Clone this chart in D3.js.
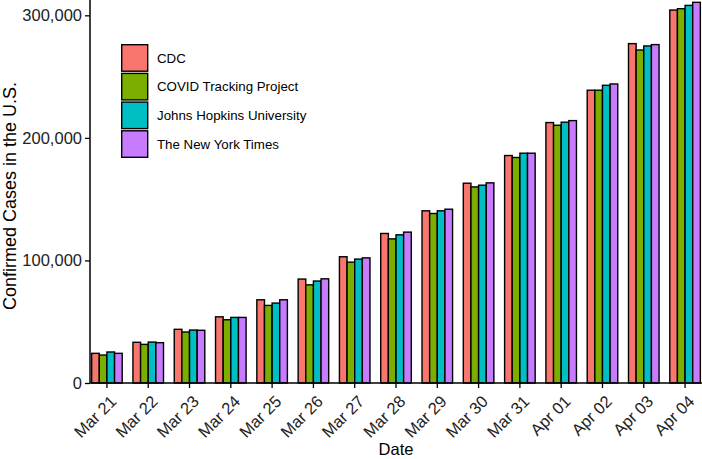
<!DOCTYPE html>
<html>
<head>
<meta charset="utf-8">
<script src="https://cdn.jsdelivr.net/npm/d3@7"></script>
<style>
  body { margin: 0; background: #fff; }
  svg { display: block; font-family: "Liberation Sans", Arial, sans-serif; }
</style>
</head>
<body>
<div id="chart"></div>
<script>
// data (confirmed cases)
var dates = ["Mar 21", "Mar 22", "Mar 23", "Mar 24", "Mar 25", "Mar 26", "Mar 27", "Mar 28",
             "Mar 29", "Mar 30", "Mar 31", "Apr 01", "Apr 02", "Apr 03", "Apr 04"];
var sources = ["CDC", "COVID Tracking Project", "Johns Hopkins University", "The New York Times"];
var cdc  = [24200, 33200, 43800, 54000, 67900, 84800, 103000, 122000, 140500, 163000, 185600, 212500, 238900, 276900, 304300];
var covid = [22800, 31500, 41600, 51600, 63300, 80100, 98600, 117600, 138300, 160000, 184000, 210300, 238900, 271700, 305400];
var jhu  = [25300, 33400, 43200, 53500, 65200, 83200, 101100, 120900, 140500, 161400, 187500, 212800, 242900, 275000, 308100];
var nyt  = [24200, 32900, 43000, 53500, 67900, 85000, 102100, 123100, 141800, 163300, 187500, 214100, 244000, 276100, 310600];
var yTicks = [0, 100000, 200000, 300000];
var colors = ["#F8766D", "#7CAE00", "#00BFC4", "#C77CFF"];

var seriesValues = [cdc, covid, jhu, nyt];
var rows = dates.map(function (d, i) {
	return {date: d, values: sources.map(function (s, j) { return {source: s, value: seriesValues[j][i]}; })};
});

var width = 702, height = 459;
var plotLeft = 90, plotRight = 702, plotTop = 0, plotBottom = 383;

var svg = d3.select("#chart").append("svg")
	.attr("width", width)
	.attr("height", height);

var x = d3.scaleBand()
	.domain(dates)
	.range([plotLeft, plotRight])
	.paddingInner(0.26)
	.paddingOuter(0.04);
var xSub = d3.scaleBand()
	.domain(sources)
	.range([0, x.bandwidth()]);
var y = d3.scaleLinear()
	.domain([0, 312500])
	.range([plotBottom, plotTop]);
var color = d3.scaleOrdinal().domain(sources).range(colors);

// bars
var groups = svg.append("g").selectAll("g")
	.data(rows)
	.enter().append("g")
	.attr("transform", function (d) { return "translate(" + x(d.date) + ",0)"; });
groups.selectAll("rect")
	.data(function (d) { return d.values; })
	.enter().append("rect")
	.attr("x", function (d) { return xSub(d.source); })
	.attr("width", xSub.bandwidth())
	.attr("y", function (d) { return y(d.value); })
	.attr("height", function (d) { return plotBottom - y(d.value); })
	.attr("fill", function (d) { return color(d.source); })
	.attr("stroke", "#000")
	.attr("stroke-width", 1.4);

// y axis
var yAxis = svg.append("g")
	.attr("transform", "translate(" + plotLeft + ",0)")
	.call(d3.axisLeft(y).tickValues(yTicks).tickSize(5).tickPadding(3).tickFormat(d3.format(",")));
yAxis.select(".domain").attr("d", "M0," + plotTop + "V" + plotBottom).attr("stroke-width", 1.5);
yAxis.selectAll(".tick line").attr("stroke-width", 1.3);
yAxis.selectAll("text").attr("font-size", 16.5).attr("fill", "#222").style("font-family", "Liberation Sans, Arial, sans-serif");

// x axis
var xAxis = svg.append("g")
	.attr("transform", "translate(0," + plotBottom + ")")
	.call(d3.axisBottom(x).tickSize(5).tickSizeOuter(0));
xAxis.select(".domain").attr("d", "M" + plotLeft + ",0H" + plotRight).attr("stroke-width", 1.5);
xAxis.selectAll(".tick line").attr("stroke-width", 1.3);
xAxis.selectAll("text")
	.attr("font-size", 16.5)
	.attr("fill", "#222")
	.style("font-family", "Liberation Sans, Arial, sans-serif")
	.attr("text-anchor", "end")
	.attr("dy", null)
	.attr("y", 0)
	.attr("transform", "translate(2,11) rotate(-45)")
	.attr("dominant-baseline", "hanging");

// axis titles
svg.append("text")
	.attr("x", (plotLeft + plotRight) / 2)
	.attr("y", 455)
	.attr("text-anchor", "middle")
	.attr("font-size", 16.5)
	.attr("fill", "#000")
	.text("Date");
svg.append("text")
	.attr("transform", "translate(16," + 196 + ") rotate(-90)")
	.attr("text-anchor", "middle")
	.attr("font-size", 18)
	.attr("fill", "#000")
	.text("Confirmed Cases in the U.S.");

// legend
var legend = svg.append("g").attr("transform", "translate(121,44)");
var item = legend.selectAll("g")
	.data(sources)
	.enter().append("g")
	.attr("transform", function (d, i) { return "translate(0," + (i * 28.7) + ")"; });
item.append("rect")
	.attr("x", 0.7).attr("y", 0.7)
	.attr("width", 26).attr("height", 26.5)
	.attr("fill", function (d) { return color(d); })
	.attr("stroke", "#000")
	.attr("stroke-width", 1.4);
item.append("text")
	.attr("x", 36)
	.attr("y", 14)
	.attr("dy", "0.35em")
	.attr("font-size", 13.3)
	.attr("fill", "#000")
	.text(function (d) { return d; });
</script>
</body>
</html>
